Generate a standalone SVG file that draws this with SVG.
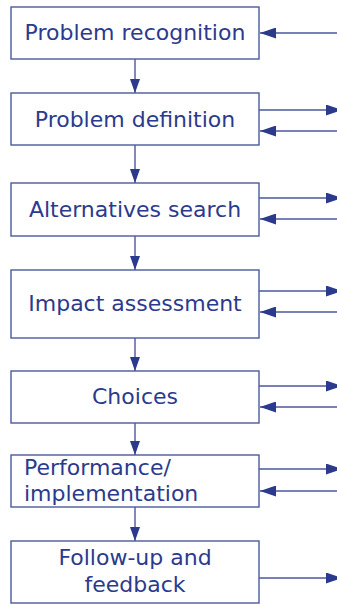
<svg xmlns="http://www.w3.org/2000/svg" width="337" height="604" viewBox="0 0 337 604">
<defs>
<style>
.box{fill:#fff;stroke:#4a5a9c;stroke-width:1.4}
.t{font-family:"DejaVu Sans",Verdana,sans-serif;font-size:22px;fill:#2b3a8c}
.c{text-anchor:middle}
.ln{stroke:#4a579c;stroke-width:1.4;fill:none}
</style>
<marker id="ah" viewBox="0 0 14 10" refX="14" refY="5" markerWidth="14" markerHeight="10" markerUnits="userSpaceOnUse" orient="auto">
<path d="M0,0 L14,5 L0,10 Z" fill="#2b3a8c"/>
</marker>
<marker id="ahL" viewBox="0 0 16 11" refX="16" refY="5.5" markerWidth="16" markerHeight="11" markerUnits="userSpaceOnUse" orient="auto">
<path d="M0,0 L16,5.5 L0,11 Z" fill="#2b3a8c"/>
</marker>
</defs>
<rect width="337" height="604" fill="#fff"/>
<g id="connectors">
<line class="ln" x1="135" y1="59" x2="135" y2="93" marker-end="url(#ah)"/>
<line class="ln" x1="135" y1="145" x2="135" y2="183" marker-end="url(#ah)"/>
<line class="ln" x1="135" y1="236" x2="135" y2="270" marker-end="url(#ah)"/>
<line class="ln" x1="135" y1="338" x2="135" y2="371" marker-end="url(#ah)"/>
<line class="ln" x1="135" y1="423" x2="135" y2="455" marker-end="url(#ah)"/>
<line class="ln" x1="135" y1="507" x2="135" y2="541" marker-end="url(#ah)"/>
<line class="ln" x1="340" y1="33" x2="260" y2="33" marker-end="url(#ahL)"/>
<line class="ln" x1="259" y1="110" x2="342" y2="110" marker-end="url(#ahL)"/>
<line class="ln" x1="340" y1="131" x2="260" y2="131" marker-end="url(#ahL)"/>
<line class="ln" x1="259" y1="198" x2="342" y2="198" marker-end="url(#ahL)"/>
<line class="ln" x1="340" y1="219" x2="260" y2="219" marker-end="url(#ahL)"/>
<line class="ln" x1="259" y1="291" x2="342" y2="291" marker-end="url(#ahL)"/>
<line class="ln" x1="340" y1="312" x2="260" y2="312" marker-end="url(#ahL)"/>
<line class="ln" x1="259" y1="386" x2="342" y2="386" marker-end="url(#ahL)"/>
<line class="ln" x1="340" y1="407" x2="260" y2="407" marker-end="url(#ahL)"/>
<line class="ln" x1="259" y1="469" x2="342" y2="469" marker-end="url(#ahL)"/>
<line class="ln" x1="340" y1="491" x2="260" y2="491" marker-end="url(#ahL)"/>
<line class="ln" x1="259" y1="578" x2="342" y2="578" marker-end="url(#ahL)"/>
</g>
<g id="n1"><rect class="box" x="11" y="7" width="248" height="52"/><text class="t c" x="135" y="40">Problem recognition</text></g>
<g id="n2"><rect class="box" x="11" y="93" width="248" height="52"/><text class="t c" x="135" y="127">Problem definition</text></g>
<g id="n3"><rect class="box" x="11" y="183" width="248" height="53"/><text class="t c" x="135" y="217">Alternatives search</text></g>
<g id="n4"><rect class="box" x="11" y="270" width="248" height="68"/><text class="t c" x="135" y="311">Impact assessment</text></g>
<g id="n5"><rect class="box" x="11" y="371" width="248" height="52"/><text class="t c" x="135" y="404">Choices</text></g>
<g id="n6"><rect class="box" x="11" y="455" width="248" height="52"/><text class="t" x="24" y="475">Performance/</text><text class="t" x="24" y="501">implementation</text></g>
<g id="n7"><rect class="box" x="11" y="541" width="248" height="62"/><text class="t c" x="135" y="565">Follow-up and</text><text class="t c" x="135" y="592">feedback</text></g>
</svg>
